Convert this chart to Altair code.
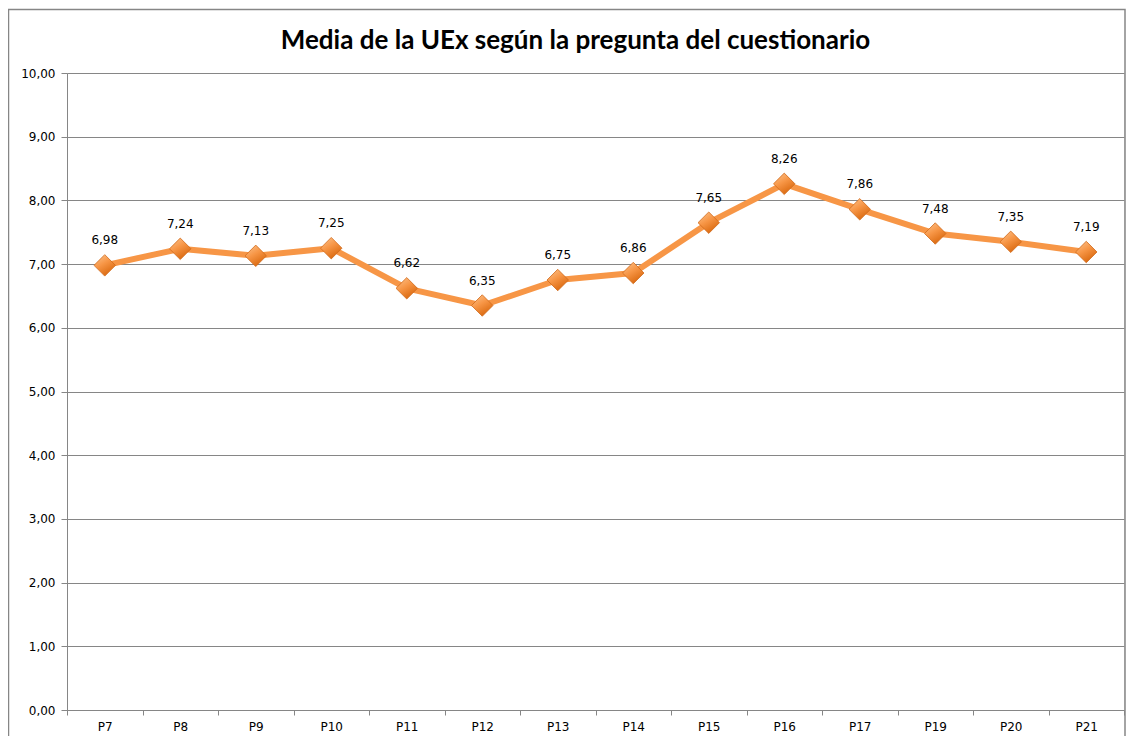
import altair as alt
import pandas as pd

categories = ["P7", "P8", "P9", "P10", "P11", "P12", "P13", "P14",
              "P15", "P16", "P17", "P19", "P20", "P21"]
values = [6.98, 7.24, 7.13, 7.25, 6.62, 6.35, 6.75, 6.86,
          7.65, 8.26, 7.86, 7.48, 7.35, 7.19]
y_ticks = [0, 1, 2, 3, 4, 5, 6, 7, 8, 9, 10]

df = pd.DataFrame({"pregunta": categories, "media": values})

W, H = 1057, 637
GRAY = "#868686"
ORANGE = "#F79646"

x_enc = alt.X(
    "pregunta:N", sort=categories,
    scale=alt.Scale(type="band", paddingInner=0, paddingOuter=0),
    axis=alt.Axis(title=None, labelAngle=0, tickBand="extent", grid=False,
                  tickSize=5, labelPadding=6, labelFont="DejaVu Sans",
                  labelFontSize=12, labelColor="#000000",
                  domainColor=GRAY, tickColor=GRAY),
)
y_enc = alt.Y(
    "media:Q",
    scale=alt.Scale(domain=[0, 10], nice=False, zero=True),
    axis=alt.Axis(title=None, values=y_ticks, grid=True, gridColor=GRAY,
                  tickSize=6, labelPadding=6, labelFont="DejaVu Sans",
                  labelFontSize=12, labelColor="#000000",
                  domainColor=GRAY, tickColor=GRAY,
                  labelExpr="replace(format(datum.value, '.2f'), '.', ',')"),
)

base = alt.Chart(df).encode(x=x_enc, y=y_enc)

line = base.mark_line(color=ORANGE, strokeWidth=6, strokeJoin="round")

grad = alt.LinearGradient(
    gradient="linear", x1=0, y1=0, x2=0.6, y2=1,
    stops=[alt.GradientStop(offset=0, color="#FCC692"),
           alt.GradientStop(offset=0.5, color="#F79646"),
           alt.GradientStop(offset=1, color="#D9680E")],
)
points = base.mark_point(shape="diamond", size=460, filled=True, fill=grad,
                         fillOpacity=1, stroke="#D06A1A", strokeWidth=0.8,
                         opacity=1)

labels = base.transform_calculate(
    lab="replace(format(datum.media, '.2f'), '.', ',')"
).mark_text(dy=-25, font="DejaVu Sans", fontSize=12, color="#000000").encode(
    text="lab:N"
)

frame = alt.Chart(pd.DataFrame({"k": [0]})).mark_rect(
    fillOpacity=0, stroke=GRAY, strokeWidth=1.5
).encode(
    x=alt.value(-58.5), x2=alt.value(1058),
    y=alt.value(-63.5), y2=alt.value(700),
)

chart = alt.layer(frame, line, points, labels).properties(
    width=W, height=H,
    title=alt.TitleParams(
        "Media de la UEx según la pregunta del cuestionario",
        font="Lato", fontSize=26, fontWeight="bold", color="#000000",
        anchor="middle", baseline="alphabetic", dx=-20, dy=66, offset=0,
    ),
    autosize=alt.AutoSizeParams(type="none"),
    padding={"left": 59, "top": 65, "right": 2, "bottom": 26},
).configure_view(stroke=None).configure(background="white")

chart.save("out.html", embed_options={"renderer": "svg", "actions": False})
